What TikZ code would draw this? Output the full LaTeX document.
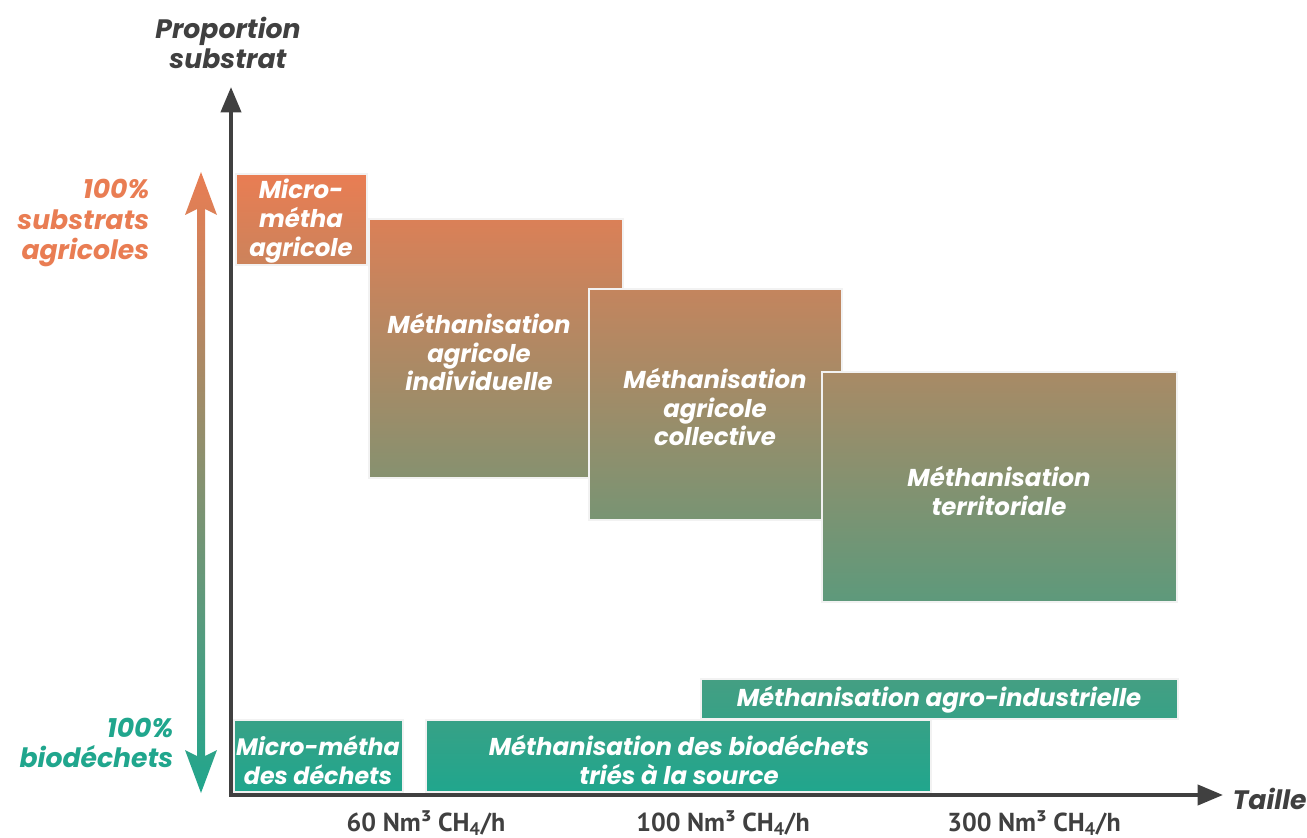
\documentclass[tikz,border=0pt]{standalone}
\usepackage{fontspec}
\setmainfont{Poppins}
\newfontfamily\ptsans{PT Sans}
\usetikzlibrary{arrows.meta}

\definecolor{orng}{RGB}{233,125,83}
\definecolor{tl}{RGB}{32,166,141}
\definecolor{axisgray}{RGB}{64,64,64}

\newcommand\gradbox[5]{%
  \pgfmathsetmacro\gtop{max(0,min(100,(790-#3)/615*100))}%
  \pgfmathsetmacro\gbot{max(0,min(100,(790-#5)/615*100))}%
  \pgfmathsetmacro\gw{(#4-#2)*0.75}%
  \pgfmathsetmacro\gh{(#5-#3)*0.75}%
  \node[sbox, top color=orng!\gtop!tl, bottom color=orng!\gbot!tl,
        minimum width=\gw pt, minimum height=\gh pt] (#1) at ({(#2+#4)/2},{(#3+#5)/2}) {};%
}

\begin{document}
\begin{tikzpicture}[x=0.75pt,y=-0.75pt,
    sbox/.style={rectangle, inner sep=0pt, outer sep=0pt, draw=white!90!gray, line width=1.1pt},
    boxtext/.style={text=white, align=center, font=\bfseries\itshape\fontsize{18.3}{21.5}\selectfont},
    axistext/.style={text=axisgray, align=center, font=\bfseries\itshape\fontsize{20}{23}\selectfont},
    sizetext/.style={text=axisgray, anchor=base, font=\ptsans\bfseries\fontsize{19.5}{20}\selectfont},
    axisline/.style={draw=axisgray, line width=3pt}]

   \useasboundingbox (0,0) rectangle (1307,838);

   \gradbox{microagri}{236}{174}{367}{265}
   \gradbox{indiv}{369}{219}{623}{478}
   \gradbox{collect}{589}{289}{842}{520}
   \gradbox{territ}{822}{372}{1177}{602}
   \gradbox{agroind}{701}{679}{1178}{719}
   \gradbox{microdech}{234}{720}{403}{792}
   \gradbox{biodech}{426}{720}{931}{792}

   \node[boxtext] (t_microagri) at (301,221) {Micro-\\métha\\agricole};
   \node[boxtext] (t_indiv) at (479,352) {Méthanisation\\agricole\\individuelle};
   \node[boxtext] (t_collect) at (715,407) {Méthanisation\\agricole\\collective};
   \node[boxtext] (t_territ) at (999,491) {Méthanisation\\territoriale};
   \node[boxtext] (t_agroind) at (939,700) {Méthanisation agro-industrielle};
   \node[boxtext, font=\bfseries\itshape\fontsize{17.8}{21.5}\selectfont] (t_microdech) at (318,760) {Micro-métha\\des déchets};
   \node[boxtext] (t_biodech) at (679,760) {Méthanisation des biodéchets\\triés à la source};

   \shade[top color=orng, bottom color=tl]
     (201,172) -- (217,215) -- (205,209) -- (205,756) -- (217,750) -- (201,793)
     -- (185,750) -- (197,756) -- (197,209) -- (185,215) -- cycle;

   \coordinate (O) at (231,795);
   \coordinate (ytip) at (231,87);
   \coordinate (xtip) at (1223,795);
   \draw[axisline, {Triangle[length=19pt,width=15pt]}-{Triangle[length=19pt,width=15pt]}]
     (ytip) -- (O) -- (xtip);

   \node[axistext] (ylab) at (228,43) {Proportion\\substrat};
   \node[axistext, anchor=west] (xlab) at (1228,799) {Taille};
   \node[axistext, text=orng, align=right, anchor=east] (agri) at (154,223) {100\%\\substrats\\agricoles};
   \node[axistext, text=tl, align=right, anchor=east] (bio) at (178,743) {100\%\\biodéchets};

   \node[sizetext] (s60) at (426,831) {60 Nm³ CH\textsubscript{4}/h};
   \node[sizetext] (s100) at (723,831) {100 Nm³ CH\textsubscript{4}/h};
   \node[sizetext] (s300) at (1034,831) {300 Nm³ CH\textsubscript{4}/h};
\end{tikzpicture}
\end{document}
